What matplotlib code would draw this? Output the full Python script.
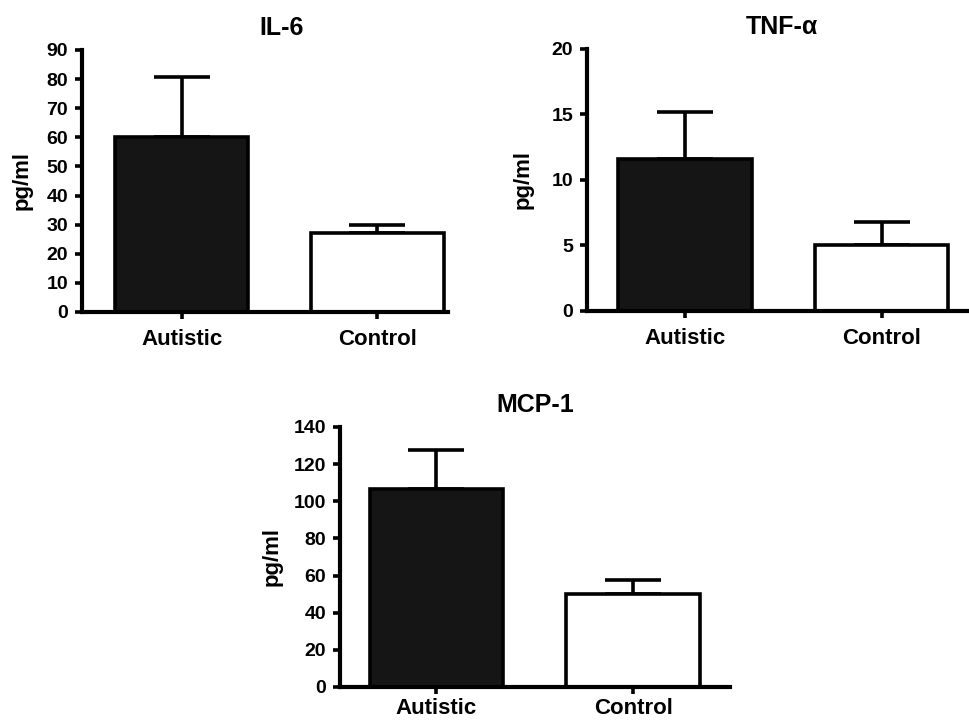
import matplotlib
matplotlib.use("Agg")
import matplotlib.pyplot as plt

plt.rcParams["font.family"] = ["Liberation Sans", "DejaVu Sans"]
plt.rcParams["font.weight"] = "bold"

groups = ["Autistic", "Control"]

il6_means = [60.2, 27.0]
il6_sem = [20.5, 3.0]

tnf_means = [11.6, 5.0]
tnf_sem = [3.6, 1.8]

mcp1_means = [106.5, 50.2]
mcp1_sem = [21.0, 7.5]

BAR_COLORS = ["#151515", "white"]
LW = 2.6


def draw_panel(ax, means, sem, title, ymax, ystep, xlim, title_x, label_x, xpad=7):
    x = list(range(len(groups)))
    ax.errorbar(x, means, yerr=[[0] * len(sem), sem], fmt="none", ecolor="black",
                elinewidth=LW, capsize=20, capthick=LW, zorder=1)
    ax.bar(x, means, width=0.68, color=BAR_COLORS, edgecolor="black", linewidth=LW, zorder=2)
    ax.set_xlim(*xlim)
    ax.set_ylim(0, ymax)
    ax.set_yticks(range(0, ymax + 1, ystep))
    ax.set_xticks(x)
    ax.set_xticklabels(groups, fontsize=16, fontweight="bold")
    ax.tick_params(axis="y", labelsize=14, width=LW, length=5, pad=5)
    ax.tick_params(axis="x", width=LW, length=5, pad=xpad)
    for side in ["top", "right"]:
        ax.spines[side].set_visible(False)
    for side in ["left", "bottom"]:
        ax.spines[side].set_linewidth(LW + 0.4)
    ax.set_ylabel("pg/ml", fontsize=16, fontweight="bold")
    ax.yaxis.set_label_coords(label_x, 0.5)
    ax.set_title(title, fontsize=18, fontweight="bold", x=title_x, pad=11)


fig = plt.figure(figsize=(9.7, 7.22), dpi=100)

ax1 = fig.add_axes([0.0845, 0.5679, 0.3773, 0.3629])
draw_panel(ax1, il6_means, il6_sem, "IL-6", 90, 10, (-0.51, 1.36), 0.546, -0.135)

ax2 = fig.add_axes([0.6052, 0.5693, 0.3948, 0.3629])
draw_panel(ax2, tnf_means, tnf_sem, "TNF-α", 20, 5, (-0.5, 1.45), 0.509, -0.14)

ax3 = fig.add_axes([0.3505, 0.0485, 0.402, 0.3601])
draw_panel(ax3, mcp1_means, mcp1_sem, "MCP-1", 140, 20, (-0.49, 1.49), 0.5, -0.148, xpad=3)

fig.savefig("out.png", dpi=100)
